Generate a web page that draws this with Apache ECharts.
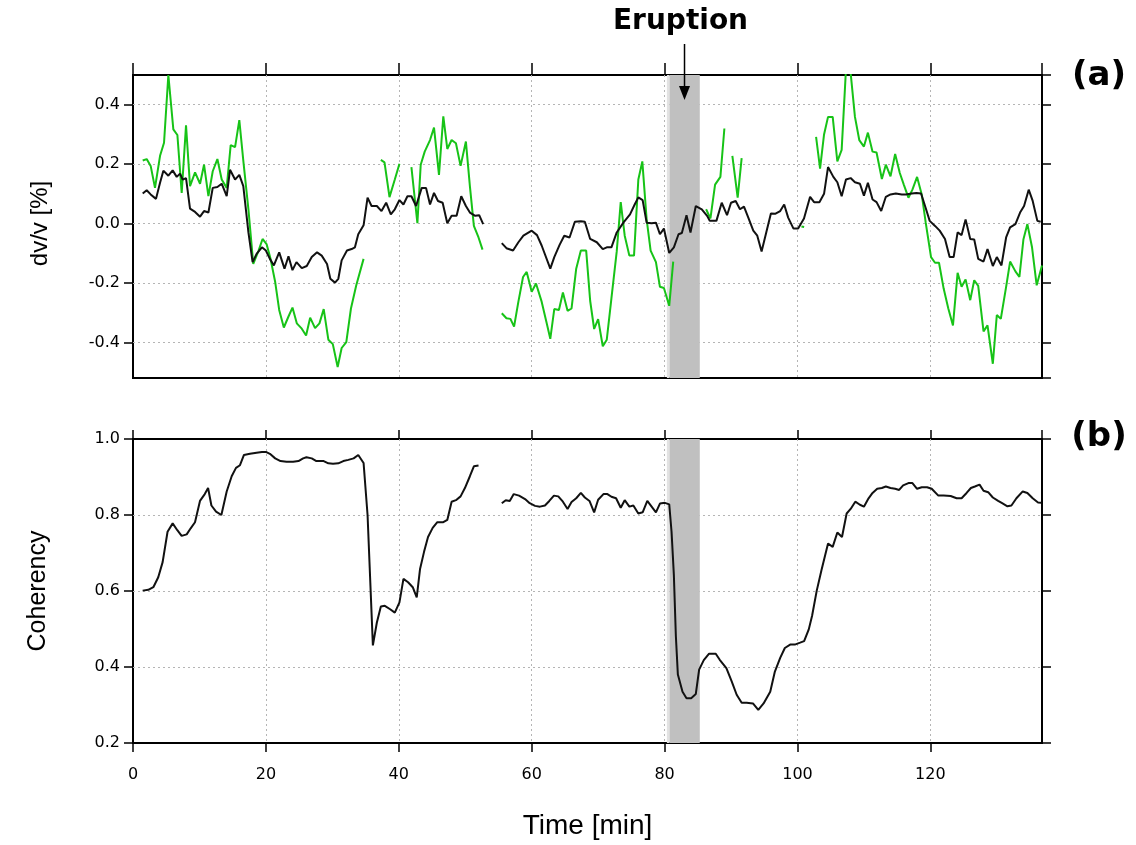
<!DOCTYPE html>
<html>
<head>
<meta charset="utf-8">
<script src="https://cdn.jsdelivr.net/npm/echarts@6/dist/echarts.min.js"></script>
<style>html,body{margin:0;padding:0;background:#fff}#c{width:1136px;height:845px}</style>
</head>
<body>
<div id="c"></div>
<script>
// ---- Data ----
const xTicks = [0, 20, 40, 60, 80, 100, 120];
const eruptionTime = 83.0;
const eruptionBand = [80.75, 85.3];

// (a) dv/v, black curve
const dvvBlackT = [1.46,2.06,2.66,3.46,4.07,4.57,5.32,5.97,6.58,7.08,7.48,7.98,8.58,9.34,10.09,10.69,11.35,12.0,12.7,13.35,14.1,14.6,15.36,16.0,16.6,17.37,18.0,18.6,19.4,20.0,20.6,21.2,22.0,22.8,23.4,24.0,24.6,25.4,26.15,26.9,27.7,28.4,29.2,29.7,30.4,30.9,31.4,32.2,32.9,33.4,33.9,34.7,35.3,35.9,36.7,37.4,38.1,38.8,39.4,40.1,40.7,41.3,41.9,42.6,43.45,44.1,44.7,45.3,45.9,46.6,47.3,47.95,48.7,49.4,50.1,50.7,51.5,52.1,52.7,54.0,55.5,56.2,57.2,58.0,58.75,60.0,60.8,61.5,62.8,63.4,64.2,64.9,65.7,66.5,67.4,68.0,68.8,69.8,70.7,71.3,72.0,72.8,73.8,74.8,75.5,76.05,76.7,77.3,78.05,78.7,79.3,79.9,80.7,81.4,82.1,82.6,83.3,83.9,84.7,85.6,86.4,86.8,87.8,88.6,89.4,90.0,90.7,91.35,91.95,92.6,93.35,93.95,94.6,95.3,96.0,96.7,97.4,98.0,98.6,99.4,100.1,100.98,101.9,102.5,103.3,104.0,104.6,105.4,106.0,106.65,107.3,108.0,108.65,109.4,110.0,110.6,111.3,111.9,112.6,113.3,114.0,114.8,115.7,116.3,117.2,117.9,118.6,119.2,119.9,120.7,121.4,122.2,122.9,123.5,124.1,124.7,125.3,126.0,126.6,127.2,128.0,128.6,129.4,130.0,130.7,131.4,132.0,132.8,133.5,134.1,134.8,135.4,136.1,136.6];
const dvvBlackV = [0.101,0.112,0.098,0.083,0.137,0.178,0.161,0.179,0.157,0.168,0.148,0.153,0.050,0.039,0.023,0.042,0.037,0.120,0.123,0.134,0.092,0.181,0.148,0.164,0.126,-0.030,-0.130,-0.102,-0.080,-0.091,-0.119,-0.141,-0.097,-0.152,-0.110,-0.157,-0.130,-0.150,-0.143,-0.113,-0.097,-0.108,-0.136,-0.186,-0.199,-0.186,-0.124,-0.091,-0.086,-0.080,-0.036,-0.006,0.087,0.059,0.059,0.042,0.070,0.031,0.048,0.079,0.064,0.092,0.092,0.059,0.120,0.120,0.064,0.103,0.076,0.070,0.001,0.026,0.026,0.092,0.059,0.037,0.026,0.028,-0.002,null,-0.066,-0.083,-0.091,-0.063,-0.041,-0.024,-0.039,-0.074,-0.152,-0.113,-0.072,-0.041,-0.047,0.006,0.008,0.006,-0.052,-0.063,-0.086,-0.080,-0.080,-0.030,0.003,0.031,0.064,0.088,0.079,0.003,0.001,0.003,-0.036,-0.017,-0.099,-0.080,-0.036,-0.032,0.028,-0.030,0.059,0.048,0.026,0.009,0.009,0.070,0.028,0.070,0.076,0.048,0.057,0.020,-0.024,-0.041,-0.094,-0.030,0.034,0.033,0.042,0.064,0.020,-0.017,-0.017,0.017,0.090,0.072,0.072,0.100,0.190,0.157,0.139,0.092,0.148,0.153,0.139,0.134,0.094,0.137,0.081,0.072,0.042,0.090,0.098,0.101,0.098,0.098,0.101,0.103,0.101,0.059,0.009,-0.008,-0.024,-0.052,-0.113,-0.113,-0.030,-0.039,0.014,-0.052,-0.054,-0.119,-0.128,-0.086,-0.143,-0.113,-0.141,-0.047,-0.013,-0.002,0.037,0.059,0.114,0.076,0.009,0.006];

// (a) dv/v, green curve (null = gap)
const dvvGreenT = [1.46,2.06,2.66,3.31,4.07,4.67,5.32,6.07,6.68,7.33,7.98,8.58,9.34,10.09,10.69,11.35,12.0,12.7,13.35,14.1,14.7,15.36,16.0,16.6,17.37,18.1,18.9,19.5,20.1,20.7,21.4,22.0,22.7,23.4,24.0,24.65,25.4,26.05,26.66,27.4,28.06,28.7,29.4,30.07,30.8,31.4,32.1,32.8,33.6,34.7,36.0,37.3,37.85,38.6,39.4,40.1,41.0,41.9,42.8,43.3,43.9,44.7,45.3,46.05,46.7,47.3,47.95,48.6,49.3,50.1,50.7,51.3,52.0,52.6,54.0,55.5,56.2,56.8,57.35,58.0,58.7,59.25,60.0,60.65,61.5,62.2,62.8,63.4,64.1,64.7,65.4,66.0,66.7,67.4,68.2,68.8,69.4,70.0,70.7,71.3,72.0,72.8,73.4,74.0,74.7,75.4,76.05,76.65,77.3,77.9,78.7,79.3,79.9,80.7,81.3,84.0,86.25,86.9,87.6,88.4,89.0,89.6,90.2,91.0,91.6,96.0,100.6,101.0,102.0,102.8,103.4,104.0,104.6,105.3,106.0,106.65,107.3,107.9,108.65,109.3,110.0,110.6,111.3,111.9,112.7,113.3,114.0,114.7,115.4,116.0,116.7,117.3,118.0,118.7,119.3,120.1,120.7,121.3,122.0,122.7,123.4,124.1,124.7,125.3,126.0,126.6,127.2,128.0,128.6,129.4,130.0,130.6,131.4,132.0,132.8,133.4,134.0,134.6,135.3,136.0,136.8];
const dvvGreenV = [0.212,0.217,0.194,0.120,0.228,0.272,0.500,0.317,0.298,0.103,0.331,0.126,0.172,0.134,0.198,0.092,0.176,0.217,0.148,0.120,0.264,0.257,0.348,0.212,0.048,-0.136,-0.091,-0.052,-0.069,-0.119,-0.197,-0.291,-0.350,-0.313,-0.283,-0.336,-0.354,-0.377,-0.317,-0.352,-0.336,-0.288,-0.391,-0.406,-0.483,-0.419,-0.399,-0.286,-0.208,-0.119,null,0.214,0.206,0.089,0.148,0.201,null,0.190,0.001,0.198,0.242,0.281,0.323,0.164,0.361,0.251,0.281,0.270,0.194,0.276,0.126,-0.008,-0.047,-0.088,null,-0.302,-0.319,-0.321,-0.347,-0.263,-0.180,-0.163,-0.230,-0.202,-0.263,-0.330,-0.388,-0.288,-0.291,-0.232,-0.294,-0.286,-0.152,-0.091,-0.091,-0.260,-0.355,-0.322,-0.413,-0.391,-0.252,-0.094,0.072,-0.041,-0.108,-0.108,0.148,0.209,0.014,-0.091,-0.130,-0.213,-0.217,-0.277,-0.128,null,0.048,0.017,0.131,0.157,0.320,null,0.228,0.087,0.220,null,-0.010,-0.012,null,0.292,0.185,0.300,0.359,0.359,0.209,0.248,0.520,0.530,0.359,0.281,0.259,0.306,0.242,0.239,0.150,0.198,0.159,0.234,0.170,0.131,0.087,0.114,0.157,0.098,0.003,-0.113,-0.132,-0.132,-0.219,-0.286,-0.343,-0.166,-0.213,-0.188,-0.258,-0.191,-0.210,-0.363,-0.343,-0.472,-0.308,-0.321,-0.213,-0.128,-0.161,-0.180,-0.054,-0.002,-0.080,-0.208,-0.141];

// (b) coherency
const cohT = [1.45,2.3,3.06,3.8,4.46,5.2,5.97,6.67,7.32,8.08,8.68,9.33,10.08,10.8,11.3,11.8,12.5,13.3,14.1,14.85,15.5,16.1,16.7,17.6,18.6,19.4,20.0,20.6,21.4,22.2,23.1,24.1,24.9,25.6,26.1,26.9,27.6,28.1,28.7,29.4,30.1,30.9,31.65,32.4,33.2,33.9,34.7,35.3,36.1,36.7,37.3,37.9,38.7,39.4,40.1,40.7,41.4,42.1,42.7,43.2,43.8,44.4,45.1,45.8,46.7,47.3,47.95,48.6,49.3,49.95,50.7,51.3,52.0,54.0,55.5,56.1,56.7,57.3,58.1,59.0,59.7,60.5,61.25,62.0,62.65,63.35,64.0,64.7,65.4,66.0,66.7,67.4,68.0,68.7,69.4,70.0,70.8,71.4,72.0,72.7,73.4,74.0,74.7,75.3,76.05,76.7,77.4,78.05,78.7,79.3,80.05,80.7,81.05,81.4,81.7,82.0,82.7,83.3,84.0,84.7,85.2,85.9,86.7,87.7,88.3,89.3,90.1,90.85,91.6,92.35,93.3,94.1,94.9,95.9,96.6,97.4,98.1,98.9,99.6,100.4,101.0,101.7,102.2,102.9,103.6,104.6,105.3,106.0,106.7,107.4,108.0,108.7,109.4,110.0,110.7,111.3,112.0,112.7,113.3,114.0,114.7,115.3,115.9,116.7,117.3,118.0,118.7,119.5,120.2,121.2,122.0,123.05,123.95,124.7,125.45,126.1,126.7,127.4,128.0,128.7,129.4,130.2,130.8,131.6,132.2,132.95,133.9,134.6,135.4,136.2,136.7];
const cohV = [0.601,0.603,0.610,0.636,0.676,0.756,0.778,0.760,0.745,0.749,0.765,0.781,0.837,0.855,0.871,0.825,0.809,0.800,0.862,0.902,0.924,0.931,0.958,0.961,0.964,0.966,0.966,0.961,0.949,0.942,0.940,0.940,0.942,0.949,0.952,0.949,0.942,0.942,0.942,0.936,0.935,0.936,0.942,0.945,0.949,0.958,0.937,0.800,0.457,0.517,0.559,0.561,0.552,0.543,0.570,0.632,0.623,0.610,0.583,0.658,0.703,0.742,0.766,0.781,0.781,0.787,0.835,0.839,0.849,0.871,0.902,0.928,0.930,null,0.831,0.839,0.837,0.855,0.851,0.842,0.831,0.824,0.822,0.825,0.837,0.851,0.849,0.835,0.816,0.834,0.844,0.858,0.846,0.837,0.807,0.840,0.855,0.855,0.848,0.844,0.819,0.839,0.822,0.825,0.804,0.807,0.837,0.822,0.807,0.830,0.832,0.828,0.756,0.641,0.481,0.380,0.335,0.318,0.318,0.329,0.393,0.418,0.435,0.435,0.419,0.397,0.362,0.327,0.306,0.306,0.304,0.287,0.304,0.335,0.388,0.424,0.450,0.459,0.459,0.464,0.468,0.499,0.535,0.601,0.654,0.725,0.716,0.754,0.742,0.804,0.816,0.835,0.827,0.822,0.844,0.858,0.869,0.871,0.875,0.871,0.869,0.866,0.878,0.884,0.884,0.869,0.873,0.873,0.869,0.851,0.851,0.850,0.844,0.844,0.858,0.871,0.875,0.880,0.864,0.860,0.846,0.837,0.831,0.823,0.825,0.844,0.862,0.858,0.844,0.833,0.832];

// ---- Chart ----
const pairs = (t, v) => t.map((x, i) => [x, v[i]]);
const FONT = 'DejaVu Sans';
const XMAX = 136.8;
const tickStyle = {color: '#000', width: 1.5};
const grid0 = {left: 133, top: 75, width: 909, height: 303};
const grid1 = {left: 133, top: 439, width: 909, height: 304};
const split = {show: true, showMinLine: false, showMaxLine: false, lineStyle: {type: [2, 3], color: '#b5b5b5', width: 1}};

function xAx(gi, pos, labels, splitOn, tickLen) {
  return {
    gridIndex: gi, type: 'value', position: pos, min: 0, max: XMAX, interval: 20,
    axisLine: {show: false, onZero: false},
    axisTick: {show: true, inside: false, length: tickLen, lineStyle: tickStyle},
    axisLabel: {show: labels, margin: 24, fontFamily: FONT, fontSize: 16, color: '#000', showMaxLabel: false, showMinLabel: true},
    splitLine: splitOn ? split : {show: false}
  };
}
function yAx(gi, pos, min, max, labels, splitOn, interval, edgeLabels) {
  const a = {
    gridIndex: gi, type: 'value', position: pos, min: min, max: max,
    axisLine: {show: false, onZero: false},
    axisTick: {show: true, inside: false, length: 9, lineStyle: tickStyle},
    axisLabel: {show: labels, margin: 13, fontFamily: FONT, fontSize: 16, color: '#000',
      showMinLabel: !!edgeLabels, showMaxLabel: !!edgeLabels, formatter: v => v.toFixed(1)},
    splitLine: splitOn ? split : {show: false}
  };
  if (interval) a.interval = interval; else a.splitNumber = 5;
  return a;
}

const chart = echarts.init(document.getElementById('c'), null, {renderer: 'canvas'});
const bandArea = {
  silent: true,
  data: [
    [{xAxis: eruptionBand[0] - 0.4, itemStyle: {color: '#e2e2e2'}}, {xAxis: eruptionBand[0]}],
    [{xAxis: eruptionBand[0], itemStyle: {color: '#c0c0c0'}}, {xAxis: eruptionBand[1]}]
  ]
};
const option = {
  animation: false,
  backgroundColor: '#fff',
  grid: [
    Object.assign({show: true, borderColor: '#000', borderWidth: 2, backgroundColor: 'rgba(0,0,0,0)'}, grid0),
    Object.assign({show: true, borderColor: '#000', borderWidth: 2, backgroundColor: 'rgba(0,0,0,0)'}, grid1)
  ],
  xAxis: [
    xAx(0, 'top', false, true, 12),
    xAx(1, 'bottom', true, true, 9),
    xAx(1, 'top', false, false, 9)
  ],
  yAxis: [
    yAx(0, 'left', -0.52, 0.5, true, true, null, false),
    yAx(0, 'right', -0.52, 0.5, false, false, null, false),
    yAx(1, 'left', 0.2, 1.0, true, true, 0.2, true),
    yAx(1, 'right', 0.2, 1.0, false, false, 0.2, true)
  ],
  series: [
    {type: 'line', xAxisIndex: 0, yAxisIndex: 0, data: [[0, null]], z: 1, markArea: bandArea},
    {type: 'line', xAxisIndex: 1, yAxisIndex: 2, data: [[0, null]], z: 1, markArea: bandArea},
    {type: 'line', name: 'dvv green', xAxisIndex: 0, yAxisIndex: 0, data: pairs(dvvGreenT, dvvGreenV),
      showSymbol: false, connectNulls: false, clip: true, z: 3,
      lineStyle: {color: '#17c317', width: 2}},
    {type: 'line', name: 'dvv black', xAxisIndex: 0, yAxisIndex: 0, data: pairs(dvvBlackT, dvvBlackV),
      showSymbol: false, connectNulls: false, clip: true, z: 4,
      lineStyle: {color: '#111', width: 2}},
    {type: 'line', name: 'coherency', xAxisIndex: 1, yAxisIndex: 2, data: pairs(cohT, cohV),
      showSymbol: false, connectNulls: false, clip: true, z: 4,
      lineStyle: {color: '#111', width: 2}}
  ]
};
chart.setOption(option);

// annotations placed from data values through the axis scale
const ax = chart.convertToPixel({xAxisIndex: 0}, eruptionTime);
const midA = chart.convertToPixel({yAxisIndex: 0}, 0.0);
const midB = chart.convertToPixel({yAxisIndex: 2}, 0.6);
const xMid = chart.convertToPixel({xAxisIndex: 1}, XMAX / 2);
chart.setOption({
  graphic: [
    {type: 'text', x: ax - 4, y: 22, style: {text: 'Eruption', font: 'bold 28px "DejaVu Sans"', fill: '#000', align: 'center', verticalAlign: 'middle'}},
    {type: 'line', shape: {x1: ax, y1: 44, x2: ax, y2: 88}, style: {stroke: '#000', lineWidth: 1.5}, z: 10},
    {type: 'polygon', shape: {points: [[ax - 5.5, 86], [ax + 5.5, 86], [ax, 100]]}, style: {fill: '#000'}, z: 10},
    {type: 'text', x: 1099, y: 76, style: {text: '(a)', font: 'bold 34px "DejaVu Sans"', fill: '#000', align: 'center', verticalAlign: 'middle'}},
    {type: 'text', x: 1099, y: 437, style: {text: '(b)', font: 'bold 34px "DejaVu Sans"', fill: '#000', align: 'center', verticalAlign: 'middle'}},
    {type: 'text', x: 40, y: midA, rotation: Math.PI / 2, style: {text: 'dv/v [%]', font: '24px "Liberation Sans"', fill: '#000', align: 'center', verticalAlign: 'middle'}},
    {type: 'text', x: 38, y: midB, rotation: Math.PI / 2, style: {text: 'Coherency', font: '25px "Liberation Sans"', fill: '#000', align: 'center', verticalAlign: 'middle'}},
    {type: 'text', x: xMid, y: 826, style: {text: 'Time [min]', font: '28px "Liberation Sans"', fill: '#000', align: 'center', verticalAlign: 'middle'}}
  ]
});
</script>
</body>
</html>
